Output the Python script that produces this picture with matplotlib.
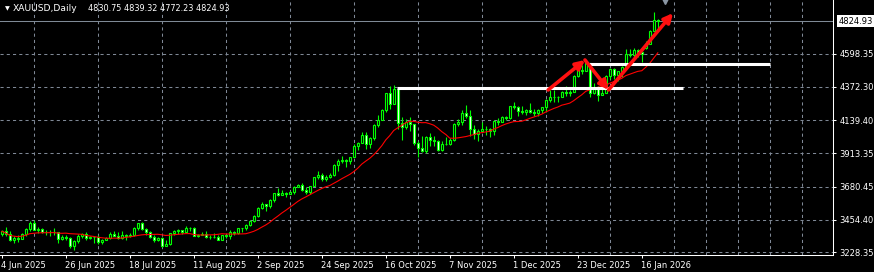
import numpy as np
import pandas as pd
import matplotlib
matplotlib.use("Agg")
import matplotlib.pyplot as plt
import matplotlib.transforms as mtransforms

# XAUUSD daily bars, 4 Jun 2025 .. 22 Jan 2026
opens = [3353, 3373, 3352, 3310, 3325, 3322, 3355, 3386, 3432, 3385, 3388, 3369, 3370, 3368, 3368, 3323, 3333, 3328, 3274,
         3303, 3338, 3357, 3326, 3337, 3336, 3301, 3313, 3324, 3355, 3343, 3324, 3347, 3339, 3350, 3397, 3431, 3387, 3368, 3337, 3314, 3326, 3275,
         3289, 3363, 3373, 3380, 3368, 3397, 3398, 3342, 3348, 3356, 3335, 3336, 3332, 3315, 3348, 3339, 3371, 3365, 3393, 3397, 3416,
         3448, 3476, 3533, 3559, 3545, 3587, 3636, 3626, 3640, 3634, 3643, 3680, 3690, 3659, 3644, 3685, 3746, 3763, 3736, 3749, 3760, 3833,
         3858, 3866, 3856, 3886, 3961, 3985, 4042, 3975, 4017, 4110, 4142, 4208, 4326, 4251, 4356, 4125, 4095, 4126, 4112, 3982, 3952, 3930, 4025,
         4002, 4000, 3932, 3980, 3977, 4001, 4115, 4127, 4194, 4171, 4080, 4045, 4067, 4078, 4077, 4065, 4135, 4131, 4164, 4157,
         4239, 4232, 4204, 4199, 4208, 4197, 4189, 4208, 4229, 4279, 4300, 4304, 4302, 4338, 4332, 4339, 4444, 4491, 4480, 4533, 4332, 4372,
         4318, 4330, 4447, 4495, 4455, 4478, 4510, 4598, 4588, 4626, 4615, 4640, 4670, 4760, 4830.75]
highs = [3385, 3403, 3375, 3338, 3349, 3360, 3398, 3446, 3451, 3404, 3399, 3380, 3385, 3398, 3370, 3345, 3350, 3331, 3310,
         3358, 3365, 3366, 3343, 3342, 3346, 3318, 3331, 3369, 3375, 3366, 3377, 3352, 3361, 3402, 3433, 3438, 3393, 3373, 3345, 3334, 3334, 3315,
         3363, 3385, 3390, 3385, 3409, 3400, 3404, 3358, 3370, 3373, 3346, 3359, 3345, 3350, 3351, 3379, 3376, 3393, 3399, 3423, 3454,
         3489, 3540, 3578, 3564, 3600, 3641, 3674, 3658, 3646, 3655, 3685, 3703, 3707, 3677, 3687, 3749, 3791, 3779, 3761, 3775, 3835, 3872,
         3896, 3876, 3890, 3977, 3991, 4060, 4060, 4022, 4116, 4180, 4218, 4330, 4380, 4381, 4360, 4161, 4146, 4162, 4112, 3995, 4030, 4030, 4053,
         4031, 4005, 3994, 4028, 4020, 4120, 4149, 4210, 4245, 4211, 4105, 4083, 4132, 4101, 4089, 4140, 4156, 4171, 4168, 4240,
         4264, 4240, 4241, 4219, 4259, 4218, 4218, 4235, 4285, 4353, 4350, 4310, 4343, 4375, 4350, 4450, 4498, 4525, 4550, 4535, 4400, 4380,
         4402, 4450, 4500, 4500, 4480, 4515, 4630, 4635, 4643, 4630, 4620, 4690, 4765, 4888, 4839.32]
lows = [3343, 3338, 3307, 3293, 3301, 3318, 3340, 3378, 3382, 3365, 3362, 3348, 3340, 3348, 3295, 3312, 3310, 3255, 3247,
        3296, 3328, 3311, 3322, 3296, 3287, 3283, 3310, 3320, 3340, 3320, 3319, 3310, 3332, 3340, 3384, 3381, 3351, 3325, 3301, 3308, 3268, 3272,
        3281, 3347, 3356, 3358, 3368, 3377, 3342, 3331, 3346, 3330, 3323, 3330, 3311, 3312, 3325, 3322, 3350, 3352, 3369, 3383, 3408,
        3436, 3471, 3528, 3511, 3535, 3578, 3620, 3621, 3613, 3629, 3633, 3677, 3655, 3628, 3634, 3683, 3737, 3718, 3722, 3740, 3758, 3793,
        3848, 3820, 3835, 3884, 3934, 3982, 3945, 3947, 4004, 4095, 4140, 4195, 4217, 4250, 4083, 4004, 4077, 4064, 3970, 3886, 3918, 3915, 3966,
        3961, 3929, 3930, 3973, 3970, 3995, 4100, 4108, 4155, 4032, 4010, 3997, 4060, 4039, 4022, 4040, 4110, 4126, 4144, 4150,
        4220, 4168, 4185, 4175, 4192, 4170, 4170, 4190, 4195, 4266, 4270, 4270, 4298, 4310, 4310, 4338, 4440, 4460, 4478, 4302, 4320, 4275,
        4315, 4328, 4425, 4425, 4410, 4440, 4510, 4580, 4580, 4580, 4540, 4630, 4665, 4755, 4772.23]
closes = [3373, 3352, 3310, 3325, 3322, 3355, 3386, 3432, 3385, 3388, 3369, 3370, 3368, 3368, 3323, 3333, 3328, 3274, 3303,
          3338, 3357, 3326, 3337, 3336, 3301, 3313, 3324, 3355, 3343, 3324, 3347, 3339, 3350, 3397, 3431, 3387, 3368, 3337, 3314, 3326, 3275, 3289,
          3363, 3373, 3380, 3368, 3397, 3398, 3342, 3348, 3356, 3335, 3336, 3332, 3315, 3348, 3339, 3371, 3365, 3393, 3397, 3416, 3448,
          3476, 3533, 3559, 3545, 3587, 3636, 3626, 3640, 3634, 3643, 3680, 3690, 3659, 3644, 3685, 3746, 3763, 3736, 3749, 3760, 3833, 3858,
          3866, 3856, 3886, 3961, 3985, 4042, 3975, 4017, 4110, 4142, 4208, 4326, 4251, 4356, 4125, 4095, 4126, 4112, 3982, 3952, 3930, 4025, 4002,
          4000, 3932, 3980, 3977, 4001, 4115, 4127, 4194, 4171, 4080, 4045, 4067, 4078, 4077, 4065, 4135, 4131, 4164, 4157, 4239,
          4232, 4204, 4199, 4208, 4197, 4189, 4208, 4229, 4279, 4300, 4304, 4302, 4338, 4332, 4339, 4444, 4491, 4480, 4533, 4332, 4372, 4318,
          4330, 4447, 4495, 4455, 4478, 4510, 4598, 4588, 4626, 4615, 4595, 4670, 4760, 4830, 4824.93]

date_labels = ["4 Jun 2025", "26 Jun 2025", "18 Jul 2025", "11 Aug 2025", "2 Sep 2025", "24 Sep 2025",
               "16 Oct 2025", "7 Nov 2025", "1 Dec 2025", "23 Dec 2025", "16 Jan 2026"]
price_levels = [3228.35, 3454.40, 3680.45, 3913.35, 4139.40, 4372.30, 4598.35]

# drawn objects: horizontal levels (start bar, end bar, price) and zigzag arrows
h_levels = [(98.8, 170.3, 4362), (146.8, 192.0, 4530)]
zigzag = [(136.6, 4350), (145.8, 4557), (151.7, 4350), (167.8, 4881)]
ma_period = 14

W, H = 874, 272
fig = plt.figure(figsize=(W / 100, H / 100), dpi=100, facecolor="black")
ax = fig.add_axes([0, 17 / H, 833 / W, 255 / H])
ax.set_facecolor("black")

o = np.array(opens, float)
c = np.array(closes, float)
x = np.arange(len(c))
lime = "#00ff00"

ax.vlines(x, lows, highs, color=lime, lw=0.8, zorder=3)
up = c >= o
ax.bar(x, np.abs(c - o), bottom=np.minimum(o, c), width=0.5,
       color=np.where(up, "black", "white"), edgecolor=lime, linewidth=0.8, zorder=4)

ma = pd.Series(c).rolling(ma_period, min_periods=1).mean()
ax.plot(x, ma, color="red", lw=0.8, zorder=5)

ax.axhline(c[-1], color="#7f8a96", lw=0.75, zorder=2)
for x0, x1, p in h_levels:
    ax.hlines(p, x0, x1, color="white", lw=2.2, zorder=6)
for (xa, ya), (xb, yb) in zip(zigzag[:-1], zigzag[1:]):
    ax.annotate("", xy=(xb, yb), xytext=(xa, ya),
                arrowprops=dict(arrowstyle="-|>", color="#ff1010", lw=2.6,
                                mutation_scale=13, shrinkA=0, shrinkB=0), zorder=7)
ax.plot(165.8, 4968, marker="v", color="#8a96a3", ms=6, zorder=7)

ax.set_xlim(-0.425, 207.8)
ax.set_ylim(3209.7, 4971.4)

ax.set_xticks(np.arange(0, 161, 16))
ax.set_xticklabels(date_labels, ha="left")
ax.set_xticks(np.arange(0, 208, 8), minor=True)
ax.set_yticks(price_levels)
ax.set_yticklabels([f"{v:.2f}" for v in price_levels])
ax.yaxis.tick_right()
ax.tick_params(axis="x", which="major", colors="white", labelsize=6, length=2, width=0.75, pad=2)
ax.tick_params(axis="x", which="minor", length=0)
ax.tick_params(axis="y", colors="white", labelsize=6, length=2.5, width=0.75, pad=2)
offset = mtransforms.ScaledTranslation(-1 / 100, 0, fig.dpi_scale_trans)
for lab in ax.get_xticklabels():
    lab.set_transform(lab.get_transform() + offset)

grid_kw = dict(color="#7f8896", lw=0.75, linestyle=(0, (3, 3)))
ax.grid(False)
ax.xaxis.grid(True, which="minor", **grid_kw)
ax.yaxis.grid(True, which="major", **grid_kw)
ax.set_axisbelow(True)

for side in ("left", "top"):
    ax.spines[side].set_visible(False)
for side in ("right", "bottom"):
    ax.spines[side].set_color("white")
    ax.spines[side].set_linewidth(0.75)

blend = mtransforms.blended_transform_factory(ax.transAxes, ax.transData)
ax.text(1.0065, c[-1], f"{c[-1]:.2f}", transform=blend, ha="left", va="center",
        fontsize=6, color="black", clip_on=False,
        bbox=dict(boxstyle="square,pad=0.2", fc="white", ec="none"))

fig.text(5 / W, 1 - 9 / H, "▼", color="white", fontsize=4.5, va="center")
fig.text(13 / W, 1 - 8.5 / H, "XAUUSD,Daily", color="white", fontsize=6.6, va="center")
fig.text(88 / W, 1 - 8.5 / H, "4830.75 4839.32 4772.23 4824.93", color="white", fontsize=5.9, va="center")

fig.savefig("out.png", dpi=100, facecolor="black")
